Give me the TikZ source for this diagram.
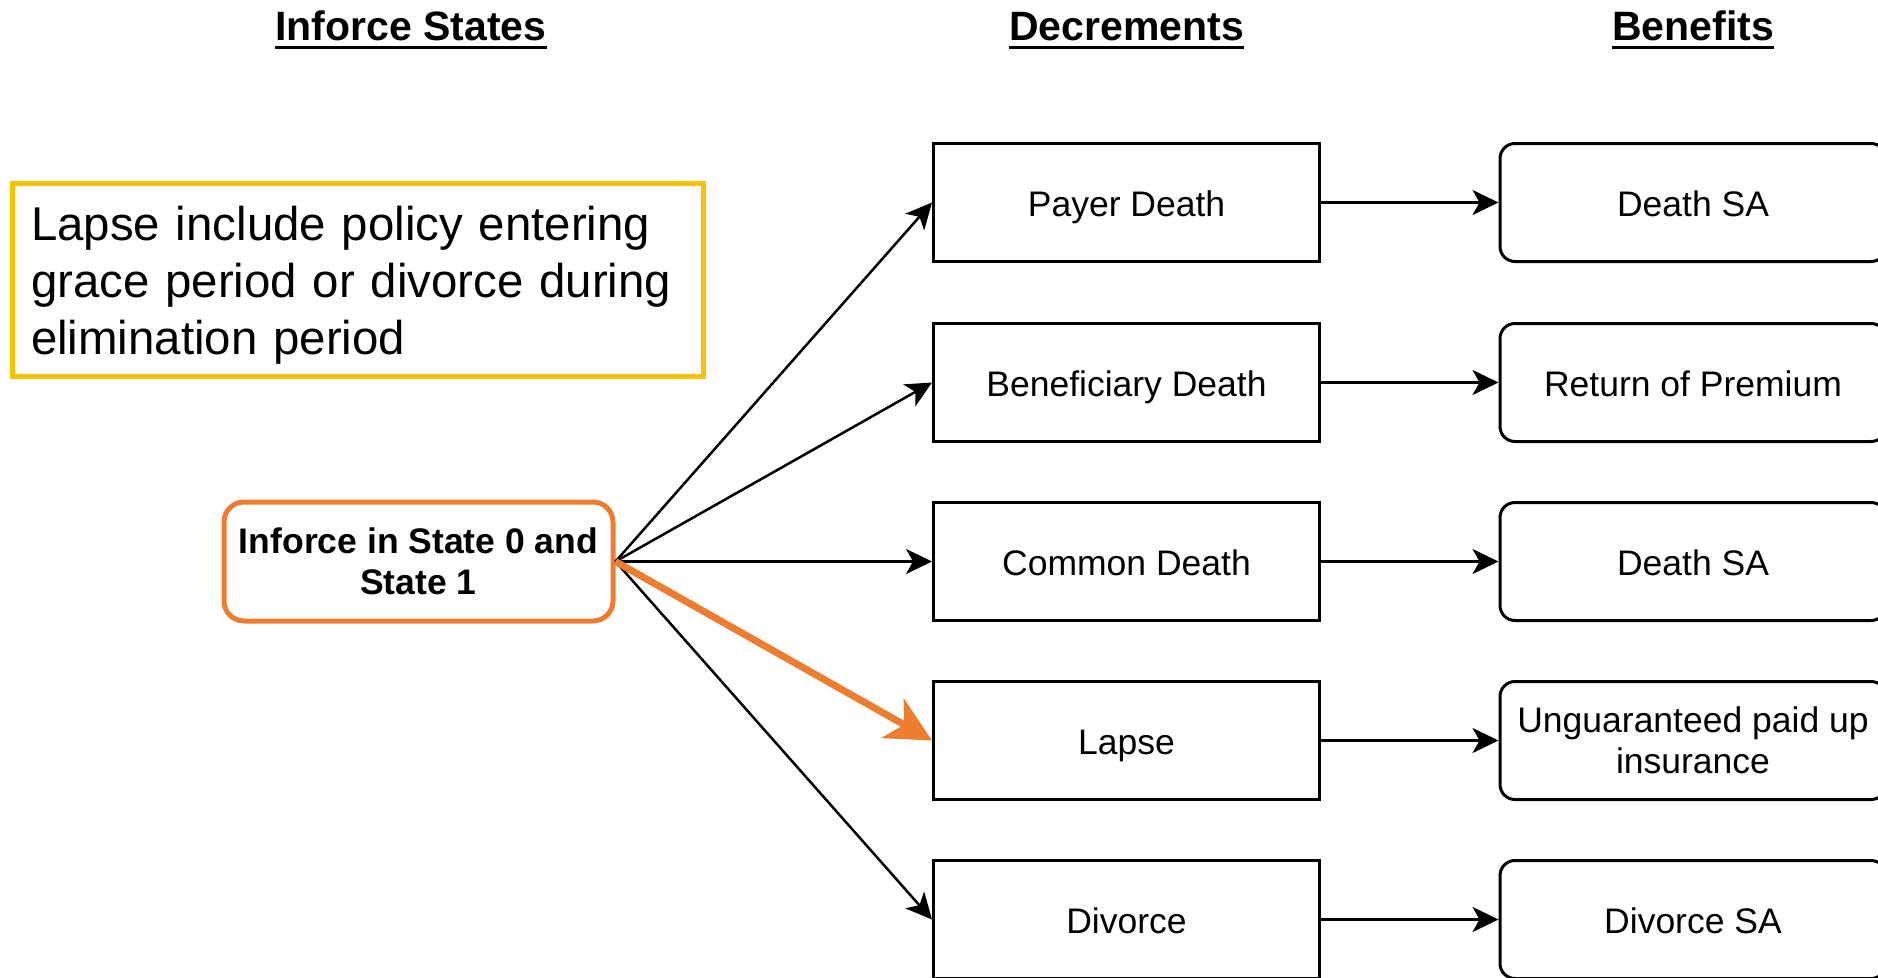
\documentclass[tikz,border=0pt]{standalone}
\usepackage{fontspec}
\setmainfont{Liberation Sans}
\usetikzlibrary{arrows.meta}
\definecolor{orng}{HTML}{ED7D31}
\definecolor{ylw}{HTML}{FFC000}
\begin{document}
\begin{tikzpicture}[x=1pt,y=-1pt,
  hdr/.style={font=\fontsize{41}{48}\selectfont\bfseries, inner sep=0pt, anchor=base},
  uline/.style={line width=3pt},
  decbox/.style={draw, line width=3pt, minimum width=386pt, minimum height=118pt, inner sep=0pt,
    font=\fontsize{35.5}{41}\selectfont, align=center},
  oneline/.style={text height=27pt, text depth=0pt},
  benbox/.style={decbox, rounded corners=15pt},
  arr/.style={line width=2.5pt, -{Stealth[length=26pt,width=25pt,inset=7pt]}},
  bigarr/.style={line width=7pt, draw=orng, -{Stealth[length=45pt,width=45pt,inset=13pt]}},
]
\useasboundingbox (0,0) rectangle (1878,977);

% headers
\node[hdr] (h1) at (411,40) {Inforce States};
\node[hdr] (h2) at (1126.5,40) {Decrements};
\node[hdr] (h3) at (1693,40) {Benefits};
\foreach \h in {h1,h2,h3}
  \draw[uline] ([yshift=-7pt]\h.base west) -- ([yshift=-7pt]\h.base east);

% note
\node[draw=ylw, line width=5pt, minimum width=691pt, minimum height=193pt, text width=654pt,
  align=left, inner sep=0pt, font=\fontsize{47.4}{57}\selectfont] (note) at (358,280)
  {\rule{0pt}{44pt}Lapse include policy entering\\grace period or divorce during\\elimination period};

% inforce state
\node[draw=orng, line width=5pt, rounded corners=20pt, minimum width=389pt, minimum height=119pt,
  inner sep=0pt, align=center, font=\fontsize{35.5}{41}\selectfont\bfseries] (inf) at (418.5,561.5)
  {Inforce in State 0 and\\State 1};

% decrements
\node[decbox,oneline] (d1) at (1126.5,202.5) {Payer Death};
\node[decbox,oneline] (d2) at (1126.5,382.5) {Beneficiary Death};
\node[decbox,oneline] (d3) at (1126.5,561.5) {Common Death};
\node[decbox,oneline] (d4) at (1126.5,740.5) {Lapse};
\node[decbox,oneline] (d5) at (1126.5,919.5) {Divorce};

% benefits
\node[benbox,oneline] (b1) at (1693,202.5) {Death SA};
\node[benbox,oneline] (b2) at (1693,382.5) {Return of Premium};
\node[benbox,oneline] (b3) at (1693,561.5) {Death SA};
\node[benbox] (b4) at (1693,740.5) {Unguaranteed paid up\\insurance};
\node[benbox,oneline] (b5) at (1693,919.5) {Divorce SA};

% connectors
\draw[arr] (inf.east) -- (d1.west);
\draw[arr] (inf.east) -- (d2.west);
\draw[arr] (inf.east) -- (d3.west);
\draw[arr] (inf.east) -- (d5.west);
\draw[bigarr] (inf.east) -- (d4.west);
\foreach \i in {1,...,5}
  \draw[arr] (d\i.east) -- (b\i.west);
\end{tikzpicture}
\end{document}
